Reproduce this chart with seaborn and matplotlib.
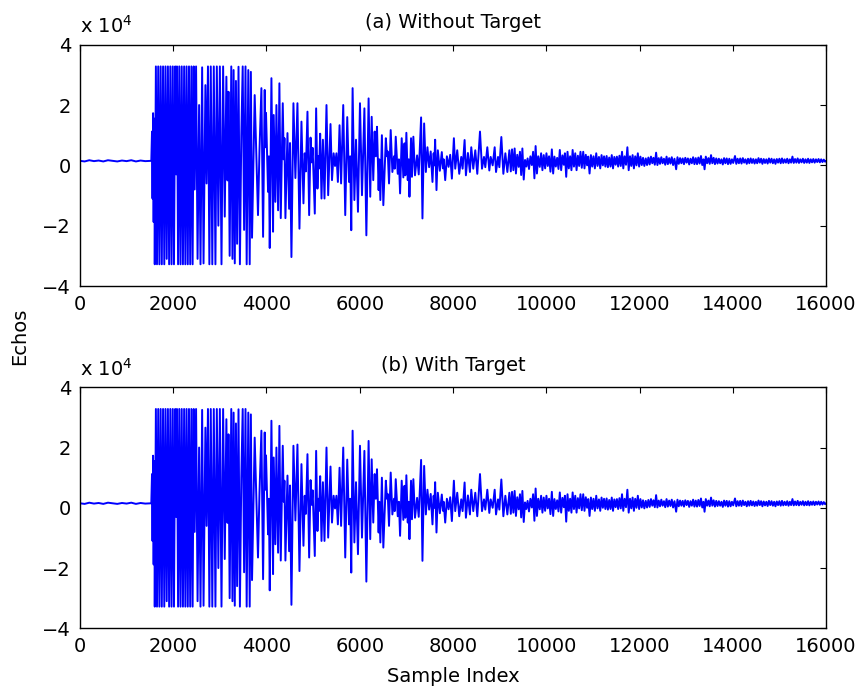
import numpy as np
import pandas as pd
import matplotlib
matplotlib.use("Agg")
import matplotlib.pyplot as plt
import seaborn as sns

# echo amplitudes, in units of 1e4 (peaks / troughs)
lead_idx = [0, 100, 200, 300, 400, 500, 600, 700, 800, 900, 1000, 1100, 1200, 1300, 1400, 1500, 1530]
lead_val = [0.15, 0.13, 0.17, 0.14, 0.16, 0.13, 0.17, 0.15, 0.13, 0.16, 0.14, 0.17, 0.13, 0.16, 0.14, 0.15, 0.15]

sat_idx = [1545, 1556, 1568, 1580, 1592, 1604, 1628, 1652, 1678, 1703, 1730, 1755, 1782, 1808,
           1834, 1860, 1886, 1912, 1938, 1964, 1990, 2016, 2042, 2062, 2080, 2104, 2130, 2156,
           2182, 2208, 2234, 2260, 2286, 2312, 2338, 2364, 2390, 2416, 2440, 2460, 2490, 2522,
           2555, 2585, 2620, 2650, 2690, 2715, 2745, 2775, 2805, 2838, 2870, 2905, 2935, 2968,
           3000, 3035, 3070, 3105, 3140, 3165, 3185, 3210, 3245, 3270, 3295, 3320, 3345, 3370,
           3400, 3430, 3460, 3490, 3520, 3550, 3575, 3610, 3640, 3665, 3690]
sat_val = [1.12, -1.1, 1.73, -1.88, 1.55, -3.28, 3.28, -3.28, 3.28, -3.28, 3.28, -3.28, 3.28, -3.28,
           3.28, -3.1, 3.28, -3.28, 3.28, -3.28, 3.28, -3.28, 3.28, -0.3, 3.28, -3.28, 3.28, -3.28,
           3.28, -3.28, 3.28, -3.28, 3.28, -3.28, 3.28, -3.28, 3.28, -3.28, 3.28, -0.8, 3.28, -3.1,
           2.0, -3.28, 3.25, -3.25, 2.66, -0.6, 3.28, -3.28, 3.28, -3.28, 3.28, -3.28, 3.28, -2.0,
           3.28, -3.28, 3.28, -1.7, 2.94, -0.5, 2.44, -3.0, 3.28, -3.1, 3.16, -3.25, 2.8, -2.6,
           3.27, -3.28, 1.0, 3.28, -2.14, 3.28, -3.28, 3.16, -3.28, 3.1, -2.4]

decay_idx = [3747, 3785, 3818, 3850, 3891, 3927, 3962, 3978, 3990, 4034, 4052, 4070, 4106, 4141,
             4155, 4190, 4213, 4249, 4277, 4306, 4349, 4370, 4385, 4406, 4450, 4485, 4505, 4535,
             4578, 4620, 4664, 4707, 4750, 4793, 4820, 4845, 4879, 4915, 4945, 4968, 4990, 5036,
             5065, 5093, 5115, 5130, 5151, 5180, 5210, 5244, 5287, 5323, 5373, 5405, 5440, 5470,
             5500, 5531, 5567, 5600, 5646, 5689, 5732, 5770, 5795, 5818, 5847, 5885, 5920, 5962,
             6005, 6048, 6100, 6142, 6190, 6225, 6256, 6290, 6320, 6345, 6370, 6405, 6420, 6442,
             6475, 6506, 6560, 6585, 6600, 6628, 6664, 6700, 6735, 6750, 6772, 6815, 6840, 6865,
             6900, 6935, 6960, 6978, 7000, 7030, 7050, 7066, 7100, 7120, 7150, 7185, 7230, 7265,
             7316, 7345, 7381, 7418, 7452, 7488, 7522, 7560, 7585, 7600, 7617, 7646, 7675, 7718,
             7760, 7785, 7800, 7833, 7869, 7905, 7940, 7976, 8019, 8048, 8091, 8134, 8177, 8206,
             8249, 8277, 8320, 8363, 8392, 8435, 8478, 8521, 8579, 8622, 8665, 8693, 8736, 8779,
             8808, 8851, 8894, 8923, 8966, 8994, 9037, 9080, 9123, 9166, 9209, 9240]
decay_val = [2.33, 0.24, -1.65, 0.5, 2.56, -2.37, 2.5, 0.6, 1.74, -0.88, 0.3, -2.74, 2.89, -2.2,
             1.67, -1.21, 2.0, -1.49, 2.72, -1.75, 2.06, 0.2, 0.9, -1.75, 1.07, -1.44, 0.74, -3.04,
             2.06, -0.42, 2.06, -2.1, 1.45, -1.26, 0.4, -0.2, 1.78, -1.65, 0.92, 0.1, 0.58, -1.6,
             1.89, -0.77, 0.3, -0.1, 1.05, -1.1, 0.85, -1.1, 2.0, -0.99, 1.37, -0.49, 0.4, -0.02,
             0.4, -0.55, 1.33, -0.6, 2.0, -1.65, 1.6, -0.55, 0.3, -2.15, 2.56, -1.15, 0.85, -1.54,
             2.06, -0.99, 1.89, -2.32, 2.22, -1.04, 1.61, -0.49, 1.12, 0.3, 1.28, -0.82, 0.2, -1.15,
             1.0, -1.32, 0.9, 0.3, 0.46, -0.6, 1.17, -0.22, 0.3, -0.11, 0.95, -0.28, 0.2, -0.93,
             0.9, -0.4, 0.73, -0.33, 1.08, -0.49, 0.2, -1.04, 0.9, -0.38, 0.95, -0.33, 0.33, -0.3,
             1.59, -1.76, 1.39, -0.22, 0.6, -0.06, 0.46, -0.55, 0.4, 0.0, 0.85, -0.82, 0.5, -0.18,
             0.44, -0.1, 0.2, -0.49, 0.3, -0.05, 0.35, -0.44, 0.9, -0.11, 0.5, -0.28, 0.28, -0.11,
             0.84, -0.33, 0.41, -0.22, 0.6, -0.11, 0.5, -0.28, 1.12, -0.11, 0.28, -0.06, 0.6, -0.17,
             0.28, 0.0, 0.6, -0.22, 0.28, -0.06, 0.94, -0.28, 0.4, -0.22, 0.5, -0.2]

tail_idx = [9266, 9295, 9322, 9350, 9378, 9409, 9436, 9462, 9488, 9517, 9545, 9572, 9600, 9630,
            9660, 9690, 9718, 9746, 9772, 9800, 9828, 9861, 9890, 9918, 9946, 9976, 10004, 10032,
            10060, 10090, 10120, 10148, 10176, 10205, 10234, 10262, 10291, 10320, 10348, 10377,
            10400, 10428, 10456, 10484, 10512, 10540, 10566, 10594, 10622, 10650, 10678, 10706,
            10734, 10762, 10793, 10820, 10848, 10876, 10900, 10929, 10958, 10986, 11014, 11043,
            11072, 11100, 11130, 11158, 11186, 11214, 11240, 11268, 11295, 11322, 11350, 11378,
            11405, 11432, 11460, 11488, 11515, 11542, 11570, 11598, 11625, 11652, 11680, 11710,
            11740, 11768, 11796, 11824, 11852, 11880, 11908, 11936, 11964, 11992, 12020, 12048,
            12076, 12104, 12134, 12162, 12190, 12218, 12246, 12274, 12300, 12328, 12356, 12384,
            12412, 12440, 12468, 12496, 12524, 12552, 12580, 12608, 12636, 12664, 12692, 12720,
            12750, 12786, 12814, 12842, 12870, 12898, 12926, 12954, 12982, 13010, 13038, 13066,
            13094, 13122, 13150, 13178, 13206, 13234, 13262, 13290, 13318, 13346, 13372, 13395,
            13422, 13450, 13478, 13506, 13534, 13562, 13590, 13618, 13646, 13674, 13702, 13730,
            13758, 13786, 13814, 13842, 13870, 13898, 13926, 13954, 13982, 14010, 14048, 14076,
            14104, 14132, 14160, 14188, 14216, 14244, 14272, 14300, 14328, 14356, 14384, 14412,
            14440, 14468, 14496, 14524, 14552, 14580, 14608, 14636, 14664, 14692, 14720, 14748,
            14776, 14804, 14832, 14860, 14888, 14916, 14944, 14972, 15000, 15028, 15056, 15084,
            15112, 15140, 15168, 15196, 15224, 15252, 15280, 15308, 15336, 15364, 15392, 15420,
            15448, 15476, 15504, 15532, 15560, 15588, 15616, 15644, 15672, 15700, 15728, 15756,
            15784, 15812, 15840, 15868, 15896, 15924, 15952, 15980, 16000]
tail_val = [0.53, -0.16, 0.56, -0.27, 0.35, -0.05, 0.45, -0.32, 0.56, -0.47, 0.18, -0.04, 0.23, -0.12,
            0.30, 0.01, 0.45, -0.43, 0.64, -0.27, 0.30, -0.05, 0.40, -0.16, 0.34, -0.10, 0.40, -0.02,
            0.30, -0.21, 0.53, -0.27, 0.29, -0.04, 0.25, -0.12, 0.51, -0.16, 0.33, 0.02,
            0.40, -0.38, 0.45, -0.10, 0.30, -0.16, 0.51, -0.04, 0.40, -0.16, 0.32, -0.02,
            0.45, -0.08, 0.45, -0.10, 0.35, 0.00, 0.29, -0.27, 0.34, -0.04, 0.30, -0.10,
            0.40, -0.02, 0.28, -0.10, 0.34, 0.00, 0.30, -0.04, 0.31, -0.06, 0.26, -0.04,
            0.34, -0.10, 0.28, 0.02, 0.29, -0.04, 0.32, -0.02, 0.45, -0.10, 0.30, 0.02,
            0.60, -0.16, 0.30, -0.02, 0.34, -0.10, 0.30, 0.00, 0.40, -0.04, 0.29, 0.01,
            0.25, -0.02, 0.23, 0.01, 0.26, 0.03, 0.29, 0.07, 0.25, 0.02, 0.42, 0.01,
            0.24, 0.05, 0.27, 0.07, 0.22, 0.02, 0.29, 0.04, 0.24, 0.06, 0.27, 0.01,
            0.22, -0.13, 0.27, 0.05, 0.24, 0.07, 0.23, 0.04, 0.25, 0.09, 0.23, 0.03,
            0.22, 0.07, 0.27, 0.04, 0.24, 0.04, 0.26, 0.06, 0.31, 0.01, 0.20, -0.13,
            0.29, 0.07, 0.24, 0.05, 0.34, 0.07, 0.25, 0.04, 0.23, 0.06, 0.22, 0.07,
            0.20, 0.03, 0.24, 0.07, 0.23, 0.04, 0.22, 0.05, 0.20, 0.08, 0.31, 0.05,
            0.22, 0.07, 0.23, 0.06, 0.24, 0.09, 0.20, 0.05, 0.22, 0.07, 0.23, 0.08,
            0.21, 0.06, 0.20, 0.07, 0.24, 0.09, 0.22, 0.05, 0.21, 0.08, 0.20, 0.06,
            0.23, 0.09, 0.22, 0.07, 0.20, 0.05, 0.21, 0.09, 0.22, 0.07, 0.23, 0.08,
            0.20, 0.09, 0.22, 0.07, 0.20, 0.09, 0.29, 0.08, 0.21, 0.09, 0.23, 0.08,
            0.20, 0.10, 0.22, 0.08, 0.20, 0.09, 0.22, 0.08, 0.20, 0.10, 0.21, 0.09,
            0.20, 0.11, 0.21, 0.10, 0.20, 0.11, 0.19, 0.12, 0.15]

# where panel (b) visibly differs from (a)
b_diff_idx = [4535, 4664, 6142, 10428]
b_diff_val = [-3.22, 2.1, -2.45, -0.46]

idx_a = lead_idx + sat_idx + decay_idx + tail_idx
val_a = lead_val + sat_val + decay_val + tail_val
df_a = pd.DataFrame({'Sample Index': idx_a, 'Echos': np.array(val_a) * 1e4})
df_b = df_a.copy()
for i, v in zip(b_diff_idx, b_diff_val):
    df_b.loc[df_b['Sample Index'] == i, 'Echos'] = v * 1e4

sns.set_style('white')
plt.rcParams['font.family'] = ['DejaVu Sans']
plt.rcParams['text.color'] = 'black'
plt.rcParams['axes.labelcolor'] = 'black'
fs = 14

fig = plt.figure(figsize=(8.59, 6.9), dpi=100)
ax1 = fig.add_axes([0.0931, 0.5855, 0.8685, 0.3497])
ax2 = fig.add_axes([0.0931, 0.0894, 0.8685, 0.3493])

for ax, d, ttl in [(ax1, df_a, '(a) Without Target'), (ax2, df_b, '(b) With Target')]:
    sns.lineplot(data=d, x='Sample Index', y='Echos', ax=ax, color='#0000ff', lw=1.4,
                 estimator=None, sort=False)
    ax.set_xlim(0, 16000)
    ax.set_ylim(-4e4, 4e4)
    ax.set_xticks(range(0, 16001, 2000))
    ax.set_xticklabels([str(v) for v in range(0, 16001, 2000)], fontsize=fs)
    ax.set_yticks([-4e4, -2e4, 0, 2e4, 4e4])
    ax.set_yticklabels(['\u22124', '\u22122', '0', '2', '4'], fontsize=fs)
    ax.tick_params(direction='in', length=4, width=0.8, top=True, right=True, pad=6.5,
                   colors='black')
    for s in ax.spines.values():
        s.set_color('black')
        s.set_linewidth(1.0)
    ax.set_xlabel('')
    ax.set_ylabel('')
    ax.set_title(ttl, fontsize=fs, pad=12, color='black')
    ax.text(0, 1.048, 'x 10$^{4}$', transform=ax.transAxes, fontsize=fs, ha='left', va='baseline')

fig.text(20 / 859, 1 - 336 / 690, 'Echos', rotation=90, ha='center', va='center', fontsize=fs)
fig.text(453 / 859, 1 - 677 / 690, 'Sample Index', ha='center', va='center', fontsize=fs)

fig.savefig('out.png', dpi=100)
